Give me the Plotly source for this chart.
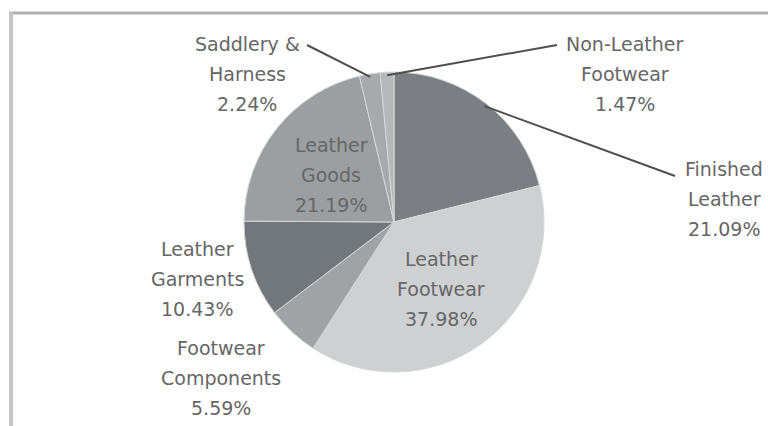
import math
import plotly.graph_objects as go

# ---- data ----
categories = ["Finished Leather", "Leather Footwear", "Footwear Components",
              "Leather Garments", "Leather Goods", "Saddlery & Harness",
              "Non-Leather Footwear"]
shares = [21.09, 37.98, 5.59, 10.43, 21.19, 2.24, 1.47]
label_lines = [
    ["Finished", "Leather", "21.09%"],
    ["Leather", "Footwear", "37.98%"],
    ["Footwear", "Components", "5.59%"],
    ["Leather", "Garments", "10.43%"],
    ["Leather", "Goods", "21.19%"],
    ["Saddlery &", "Harness", "2.24%"],
    ["Non-Leather", "Footwear", "1.47%"],
]

# ---- styling / layout ----
W, H = 768, 426
CX, CY, R = 394, 222, 150
slice_colors = ["#7b7f83", "#cfd0d2", "#a0a3a6", "#72777b", "#9c9fa2", "#a7a9ac", "#b6b8ba"]
label_centers = [(724, 199), (441, 289), (221, 378), (197, 279), (331, 175), (247, 74), (625, 74)]
leader_from = {0: (675, 176), 5: (307, 45), 6: (557, 45)}
LINE_GAP = 30
FONT = dict(family="DejaVu Sans, sans-serif", size=19, color="#666666")


def px(x):
    return x / W


def py(y):
    return 1 - y / H


fig = go.Figure(go.Pie(
    labels=categories, values=shares, sort=False, direction="clockwise",
    rotation=0, textinfo="none", hoverinfo="label+percent",
    marker=dict(colors=slice_colors, line=dict(color="#d6d7d8", width=1)),
    domain=dict(x=[px(CX - R), px(CX + R)], y=[py(CY + R), py(CY - R)]),
    showlegend=False,
))

annotations = []
for (cx, cy), lines in zip(label_centers, label_lines):
    n = len(lines)
    for i, t in enumerate(lines):
        yy = cy + (i - (n - 1) / 2) * LINE_GAP
        annotations.append(dict(x=px(cx), y=py(yy), xref="paper", yref="paper",
                                text=t, showarrow=False, font=FONT,
                                xanchor="center", yanchor="middle"))

shapes = []
total = sum(shares)
cum = 0
mids = []
for v in shares:
    mids.append((cum + v / 2) / total * 2 * math.pi)
    cum += v
for idx, (sx, sy) in leader_from.items():
    a = mids[idx]
    ex, ey = CX + R * 0.98 * math.sin(a), CY - R * 0.98 * math.cos(a)
    shapes.append(dict(type="line", xref="paper", yref="paper",
                       x0=px(sx), y0=py(sy), x1=px(ex), y1=py(ey),
                       line=dict(color="#4f4f4f", width=2)))

# frame
shapes.append(dict(type="line", xref="paper", yref="paper", x0=px(9), y0=py(13), x1=1, y1=py(13),
                   line=dict(color="#b0b0b0", width=3)))
shapes.append(dict(type="line", xref="paper", yref="paper", x0=px(11), y0=py(12), x1=px(11), y1=0,
                   line=dict(color="#c4c4c4", width=4)))

fig.update_layout(width=W, height=H, margin=dict(l=0, r=0, t=0, b=0),
                  paper_bgcolor="white", plot_bgcolor="white",
                  annotations=annotations, shapes=shapes)
fig.write_html("out.html")
